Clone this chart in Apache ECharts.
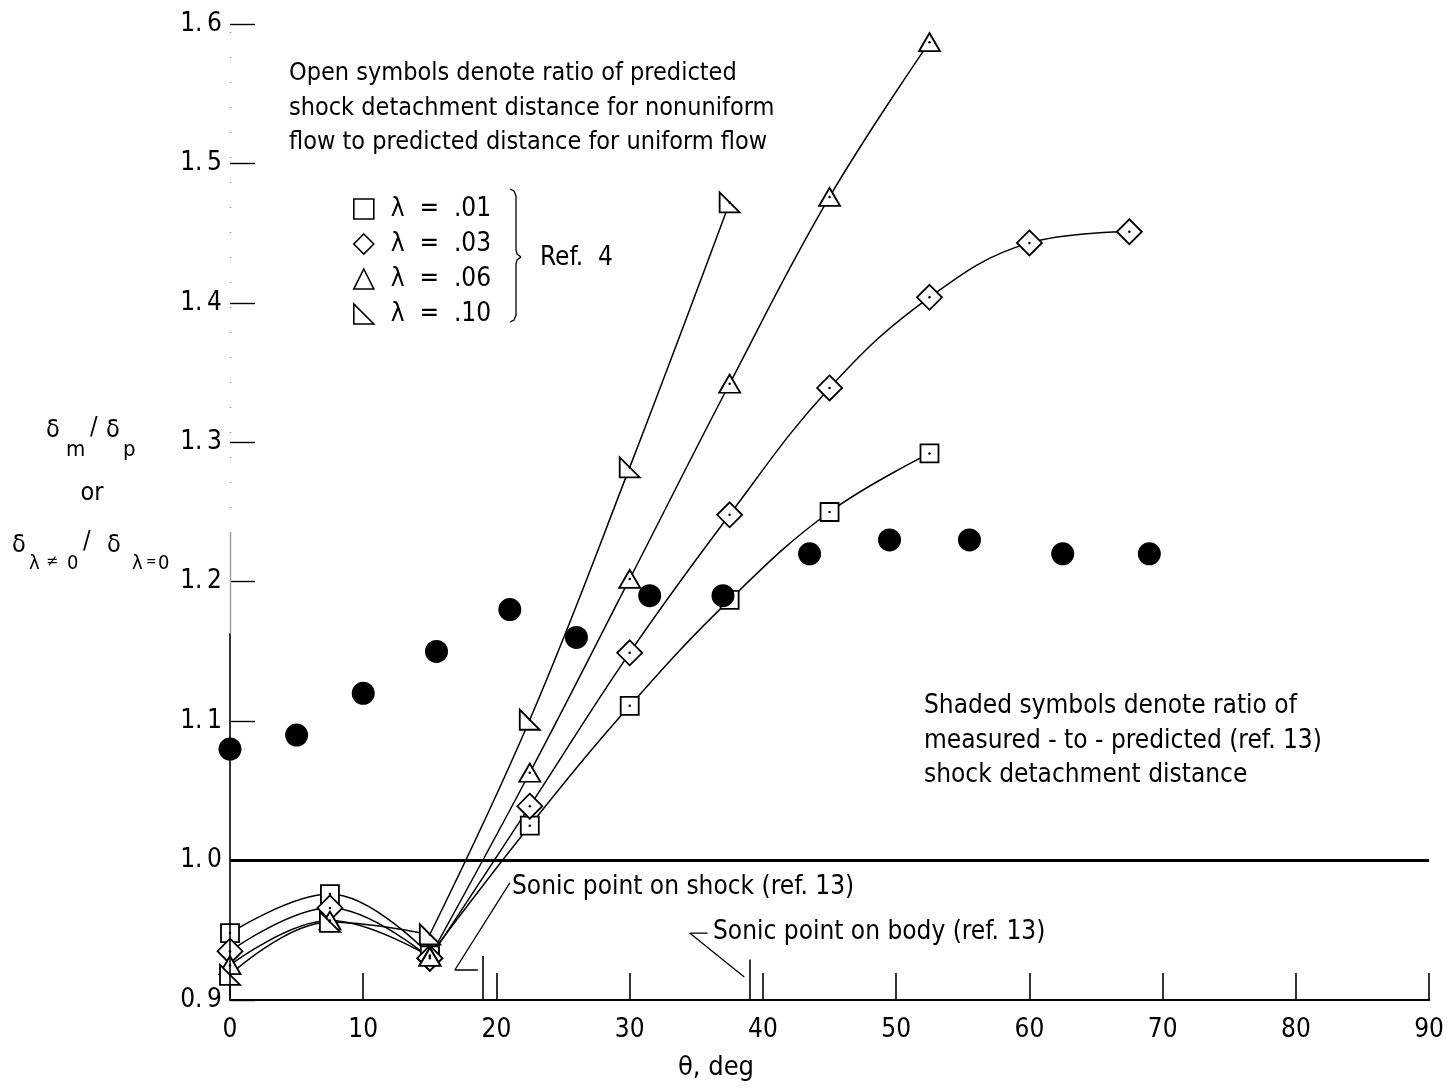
<!DOCTYPE html>
<html>
<head>
<meta charset="utf-8">
<script src="https://cdn.jsdelivr.net/npm/echarts@6/dist/echarts.min.js"></script>
<style>
  html, body { margin: 0; padding: 0; background: #ffffff; }
  #chart { width: 1447px; height: 1088px; }
</style>
</head>
<body>
<div id="chart"></div>
<script>
// Shock detachment distance ratio vs. body angle theta (deg)
const FONT = '"Liberation Sans Narrow", "DejaVu Sans Condensed", "Noto Sans", sans-serif';

// Predicted ratio, nonuniform / uniform flow (open symbols, ref. 4)
const thetaL01 = [0, 7.5, 15, 22.5, 30, 37.5, 45, 52.5];
const ratioL01 = [0.948, 0.976, 0.932, 1.025, 1.111, 1.187, 1.250, 1.292];

const thetaL03 = [0, 7.5, 15, 22.5, 30, 37.5, 45, 52.5, 60, 67.5];
const ratioL03 = [0.935, 0.966, 0.930, 1.039, 1.149, 1.248, 1.339, 1.404, 1.443, 1.451];

const thetaL06 = [0, 7.5, 15, 22.5, 30, 37.5, 45, 52.5];
const ratioL06 = [0.925, 0.957, 0.931, 1.063, 1.202, 1.342, 1.476, 1.587];

const thetaL10 = [0, 7.5, 15, 22.5, 30, 37.5];
const ratioL10 = [0.918, 0.956, 0.947, 1.101, 1.282, 1.472];

// Measured-to-predicted ratio (shaded symbols, ref. 13)
const thetaMeas = [0, 5, 10, 15.5, 21, 26, 31.5, 37, 43.5, 49.5, 55.5, 62.5, 69];
const ratioMeas = [1.08, 1.09, 1.12, 1.15, 1.18, 1.16, 1.19, 1.19, 1.22, 1.23, 1.23, 1.22, 1.22];

// Sonic point locations (ref. 13)
const sonicShockTheta = 19;
const sonicBodyTheta = 39;

// the faired curves have a corner at this angle
const cornerTheta = 15;

// Axis ticks
const xTicks = [0, 10, 20, 30, 40, 50, 60, 70, 80, 90];
const yTicks = [0.9, 1.0, 1.1, 1.2, 1.3, 1.4, 1.5, 1.6];

const lambdaNames = ['λ  =  .01', 'λ  =  .03', 'λ  =  .06', 'λ  =  .10'];

const zip = (xs, ys) => xs.map((x, i) => [x, ys[i]]);

// break the faired curve at the corner so each branch is smoothed on its own
function withCorner(points) {
  const i = points.findIndex(p => p[0] === cornerTheta);
  if (i < 0) return points;
  return points.slice(0, i + 1).concat([['-', '-']], points.slice(i));
}

const RIGHT_TRI = 'path://M0,0 L0,10 L10,10 Z';

const lambdaSets = [
  { name: lambdaNames[0], data: zip(thetaL01, ratioL01), symbol: 'rect', size: 18, icon: 'rect' },
  { name: lambdaNames[1], data: zip(thetaL03, ratioL03), symbol: 'diamond', size: 25, icon: 'diamond' },
  { name: lambdaNames[2], data: zip(thetaL06, ratioL06), symbol: 'triangle', size: [21, 18], icon: 'triangle' },
  { name: lambdaNames[3], data: zip(thetaL10, ratioL10), symbol: RIGHT_TRI, size: 20, icon: RIGHT_TRI }
];

const lambdaSeries = lambdaSets.map(s => ({
  name: s.name,
  type: 'line',
  data: withCorner(s.data),
  connectNulls: false,
  smooth: 0.4,
  symbol: s.symbol,
  symbolSize: s.size,
  showAllSymbol: true,
  lineStyle: { color: '#000', width: 1.5 },
  itemStyle: { color: '#fff', borderColor: '#000', borderWidth: 1.8 },
  z: 3,
  silent: true
}));

// tiny centre dots inside the open symbols
const dotSeries = lambdaSets.map(s => ({
  name: s.name + ' centre',
  type: 'scatter',
  data: s.data,
  symbol: 'circle',
  symbolSize: 2.5,
  itemStyle: { color: '#000', opacity: 1 },
  z: 4,
  silent: true
}));

const plainLine = (w, color) => ({ color: color || '#000', width: w, type: 'solid' });

const frameSeries = {
  name: 'frame',
  type: 'line',
  data: [],
  silent: true,
  markLine: {
    silent: true,
    symbol: ['none', 'none'],
    label: { show: false },
    emphasis: { disabled: true },
    animation: false,
    data: [
      // uniform-flow reference ratio
      [{ coord: [0, 1.0], lineStyle: plainLine(3) }, { coord: [90, 1.0] }],
      // ordinate line (solid lower part, faint above)
      [{ coord: [0, 0.9], lineStyle: plainLine(1.6) }, { coord: [0, 1.163] }],
      [{ coord: [0, 1.163], lineStyle: plainLine(1.4, '#9a9a9a') }, { coord: [0, 1.235] }],
      [{ coord: [0, 1.235], lineStyle: { color: '#888', width: 1.4, type: [1, 24] } }, { coord: [0, 1.6] }],
      // sonic point ticks
      [{ coord: [sonicShockTheta, 0.9], lineStyle: plainLine(1.6) }, { coord: [sonicShockTheta, 0.9315] }],
      [{ coord: [sonicBodyTheta, 0.9], lineStyle: plainLine(1.6) }, { coord: [sonicBodyTheta, 0.929] }]
    ]
  }
};

const leaderStyle = { color: '#000', width: 1.3 };
const leaderSeries = [
  {
    name: 'shock leader', type: 'line', silent: true, symbol: 'none',
    lineStyle: leaderStyle, z: 2,
    data: [[21.0, 0.984], [16.875, 0.9215], [18.6, 0.9215]]
  },
  {
    name: 'body leader', type: 'line', silent: true, symbol: 'none',
    lineStyle: leaderStyle, z: 2,
    data: [[35.85, 0.948], [34.5, 0.948], [38.6, 0.9165]]
  }
];

const measuredSeries = {
  name: 'measured',
  type: 'scatter',
  data: zip(thetaMeas, ratioMeas),
  symbol: 'circle',
  symbolSize: 23,
  itemStyle: { color: '#000', opacity: 1 },
  z: 5,
  silent: true
};

function txt(text, x, y, size, extra) {
  return {
    type: 'text',
    silent: true,
    style: Object.assign({
      text: text,
      x: x,
      y: y,
      fill: '#000',
      fontFamily: FONT,
      fontSize: size,
      align: 'left',
      verticalAlign: 'middle'
    }, extra || {})
  };
}

const graphics = [
  // open-symbol note
  txt('Open symbols denote ratio of predicted\nshock detachment distance for nonuniform\nflow to predicted distance for uniform flow',
      289, 108, 25, { lineHeight: 34.5 }),
  // shaded-symbol note
  txt('Shaded symbols denote ratio of\nmeasured - to - predicted (ref. 13)\nshock detachment distance',
      924, 741, 26, { lineHeight: 34.5 }),
  // legend brace and source
  {
    type: 'polyline', silent: true,
    shape: { points: [[510, 189], [514, 191], [516, 196], [516, 250], [517, 254], [521, 257]] },
    style: { stroke: '#000', lineWidth: 1.3, fill: null }
  },
  {
    type: 'polyline', silent: true,
    shape: { points: [[521, 257], [517, 260], [516, 264], [516, 315], [514, 320], [510, 322]] },
    style: { stroke: '#000', lineWidth: 1.3, fill: null }
  },
  txt('Ref.  4', 540, 258, 26),
  // sonic point labels
  txt('Sonic point on shock (ref. 13)', 512, 887, 26),
  txt('Sonic point on body (ref. 13)', 713, 932, 26),
  // axis title
  txt('θ, deg', 716, 1068, 27, { align: 'center' }),
  // ordinate title
  txt('δ', 46, 430, 25),
  txt('m', 66, 450, 22),
  txt('/', 90, 427, 25),
  txt('δ', 106, 430, 25),
  txt('p', 123, 450, 22),
  txt('or', 92, 493, 25, { align: 'center' }),
  txt('δ', 12, 545, 25),
  txt('λ', 29, 564, 20),
  txt('≠', 46, 562, 16),
  txt('0', 67, 564, 20),
  txt('/', 83, 541, 25),
  txt('δ', 107, 545, 25),
  txt('λ', 132, 564, 20),
  txt('=', 146, 562, 14),
  txt('0', 158, 564, 20)
];

const chart = echarts.init(document.getElementById('chart'), null, { renderer: 'canvas' });

chart.setOption({
  backgroundColor: '#ffffff',
  animation: false,
  grid: { left: 230, right: 17, top: 24, bottom: 88, containLabel: false },
  xAxis: {
    type: 'value',
    min: xTicks[0],
    max: xTicks[xTicks.length - 1],
    interval: 10,
    axisLine: { show: true, lineStyle: { color: '#000', width: 2.2 } },
    axisTick: { show: true, inside: true, length: 27, lineStyle: { color: '#000', width: 1.6 } },
    axisLabel: { color: '#000', fontFamily: FONT, fontSize: 26, margin: 17 },
    splitLine: { show: false }
  },
  yAxis: {
    type: 'value',
    min: yTicks[0],
    max: yTicks[yTicks.length - 1],
    interval: 0.1,
    axisLine: { show: false },
    axisTick: { show: true, inside: true, length: 25, lineStyle: { color: '#000', width: 1.4 } },
    axisLabel: {
      color: '#000', fontFamily: FONT, fontSize: 26, margin: 8,
      formatter: v => v.toFixed(1).replace('.', '.\u2009')
    },
    splitLine: { show: false }
  },
  legend: {
    show: true,
    orient: 'vertical',
    left: 348,
    top: 191,
    itemWidth: 20,
    itemHeight: 20,
    itemGap: 9,
    selectedMode: false,
    data: lambdaSets.map(s => ({ name: s.name, icon: s.icon })),
    itemStyle: { color: '#fff', borderColor: '#000', borderWidth: 1.6 },
    textStyle: { color: '#000', fontFamily: FONT, fontSize: 26, padding: [0, 0, 0, 12] }
  },
  tooltip: { show: false },
  graphic: graphics,
  series: [frameSeries].concat(leaderSeries, lambdaSeries, dotSeries, [measuredSeries])
});
</script>
</body>
</html>
